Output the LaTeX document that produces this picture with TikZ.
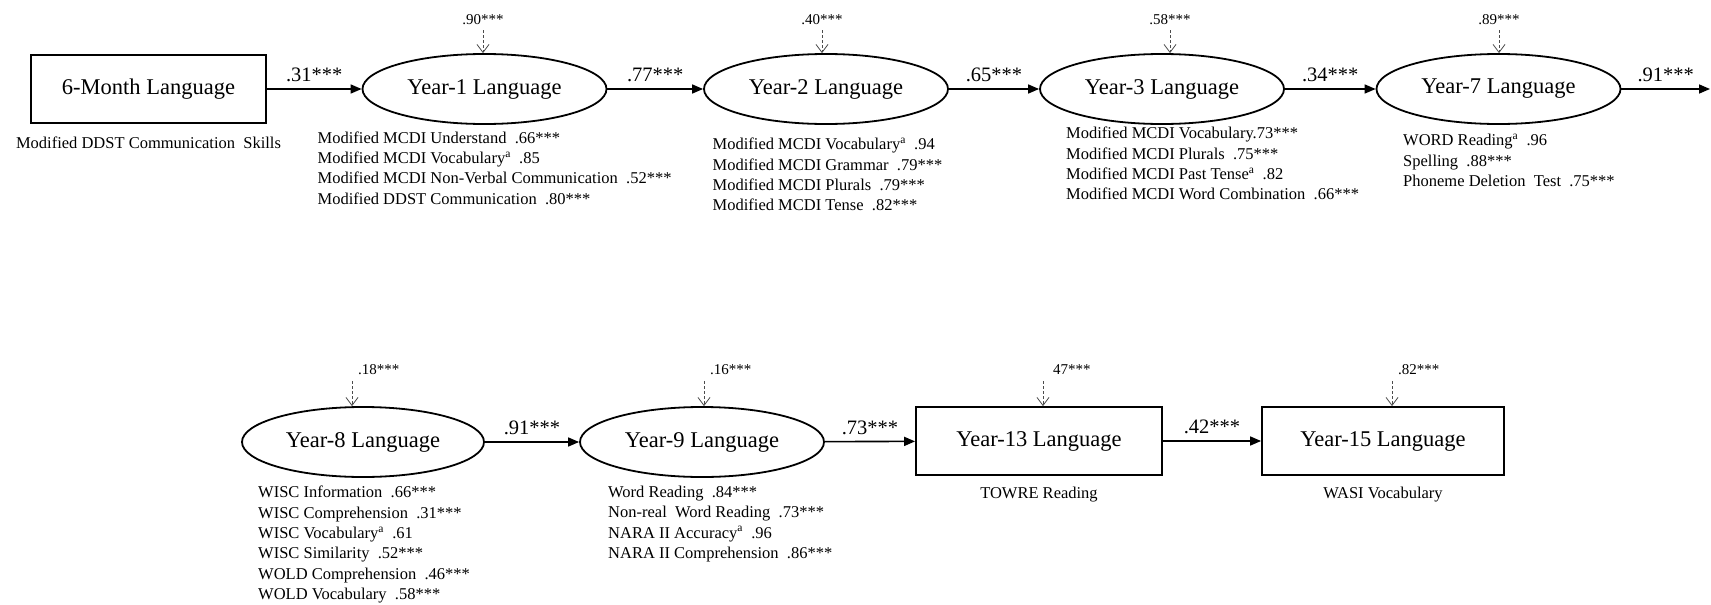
\documentclass[tikz,border=0pt]{standalone}
\usepackage{fontspec}
\setmainfont{Liberation Serif}
\usetikzlibrary{arrows.meta,positioning,shapes.geometric}

\begin{document}
\begin{tikzpicture}[
  x=1pt,y=-1pt,
  every node/.style={inner sep=0pt},
  lat/.style={draw,ellipse,line width=1.8pt,minimum width=244pt,minimum height=70pt,font=\fontsize{22.5}{27}\selectfont},
  obs/.style={draw,rectangle,line width=1.8pt,minimum width=242pt,minimum height=68pt,font=\fontsize{22.5}{27}\selectfont},
  ind/.style={align=left,anchor=north west,font=\fontsize{16.5}{20.3}\selectfont},
  note/.style={font=\fontsize{16.5}{20.3}\selectfont},
  coef/.style={midway,above=6pt,font=\fontsize{20.5}{24}\selectfont},
  resid/.style={font=\fontsize{15}{18}\selectfont},
  link/.style={-{Triangle[length=11pt,width=9pt]},line width=1.6pt},
  err/.style={-{Straight Barb[length=8pt,width=12pt]},line width=0.8pt,dash pattern=on 3pt off 2pt,color=black!70}
]
\useasboundingbox (0,0) rectangle (1711,605);

% top row
\node[obs,minimum width=235pt] (six) at (148.5,89) {6-Month Language};
\node[lat] (y1) at (484.5,89) {Year-1 Language};
\node[lat] (y2) at (826,89) {Year-2 Language};
\node[lat] (y3) at (1162,89) {Year-3 Language};
\node[lat] (y7) at (1498.5,89) {Year-7 Language};
\coordinate (more) at (1710,89);

\draw[link] (six) -- node[coef] (p1) {.31***} (y1);
\draw[link] (y1) -- node[coef] (p2) {.77***} (y2);
\draw[link] (y2) -- node[coef] (p3) {.65***} (y3);
\draw[link] (y3) -- node[coef] (p4) {.34***} (y7);
\draw[link] (y7) -- node[coef] (p5) {.91***} (more);

% residuals, top
\coordinate (e1) at (483,30);
\coordinate (e2) at (822,30);
\coordinate (e3) at (1170,30);
\coordinate (e7) at (1499,30);
\draw[err] (e1) -- (e1 |- y1.north);
\draw[err] (e2) -- (e2 |- y2.north);
\draw[err] (e3) -- (e3 |- y3.north);
\draw[err] (e7) -- (e7 |- y7.north);
\node[resid,above=5pt] (r1) at (e1) {.90***};
\node[resid,above=5pt] (r2) at (e2) {.40***};
\node[resid,above=5pt] (r3) at (e3) {.58***};
\node[resid,above=5pt] (r7) at (e7) {.89***};

% indicators, top
\node[note,below=13pt of six] (m0) {Modified DDST Communication~~Skills};
\node[ind] (m1) at (317.5,131.5) {Modified MCDI Understand~~.66***\\Modified MCDI Vocabulary\textsuperscript{a}~~.85\\Modified MCDI Non-Verbal Communication~~.52***\\Modified DDST Communication~~.80***};
\node[ind] (m2) at (712.5,138) {Modified MCDI Vocabulary\textsuperscript{a}~~.94\\Modified MCDI Grammar~~.79***\\Modified MCDI Plurals~~.79***\\Modified MCDI Tense~~.82***};
\node[ind] (m3) at (1066,127) {Modified MCDI Vocabulary.73***\\Modified MCDI Plurals~~.75***\\Modified MCDI Past Tense\textsuperscript{a}~~.82\\Modified MCDI Word Combination~~.66***};
\node[ind] (m7) at (1403,134) {WORD Reading\textsuperscript{a}~~.96\\Spelling~~.88***\\Phoneme Deletion~~Test~~.75***};

% bottom row
\node[lat,minimum width=242pt] (y8) at (363,442) {Year-8 Language};
\node[lat] (y9) at (702,442) {Year-9 Language};
\node[obs,minimum width=246pt] (y13) at (1039,441) {Year-13 Language};
\node[obs] (y15) at (1383,441) {Year-15 Language};

\draw[link] (y8) -- node[coef] (p6) {.91***} (y9);
\draw[link] (y9) -- node[coef] (p7) {.73***} (y13);
\draw[link] (y13) -- node[coef] (p8) {.42***} (y15);

% residuals, bottom
\coordinate (e8) at (352,381);
\coordinate (e9) at (704,381);
\coordinate (e13) at (1043,381);
\coordinate (e15) at (1392,381);
\draw[err] (e8) -- (e8 |- y8.north);
\draw[err] (e9) -- (e9 |- y9.north);
\draw[err] (e13) -- (e13 |- y13.north);
\draw[err] (e15) -- (e15 |- y15.north);
\node[resid,anchor=south west,xshift=6pt,yshift=6pt] (r8) at (e8) {.18***};
\node[resid,anchor=south west,xshift=6pt,yshift=6pt] (r9) at (e9) {.16***};
\node[resid,anchor=south west,xshift=10pt,yshift=6pt] (r13) at (e13) {47***};
\node[resid,anchor=south west,xshift=6pt,yshift=6pt] (r15) at (e15) {.82***};

% indicators, bottom
\node[ind] (m8) at (258,486) {WISC Information~~.66***\\WISC Comprehension~~.31***\\WISC Vocabulary\textsuperscript{a}~~.61\\WISC Similarity~~.52***\\WOLD Comprehension~~.46***\\WOLD Vocabulary~~.58***};
\node[ind] (m9) at (608,486) {Word Reading~~.84***\\Non-real~~Word Reading~~.73***\\NARA II Accuracy\textsuperscript{a}~~.96\\NARA II Comprehension~~.86***};
\node[note,below=11pt of y13] (m13) {TOWRE Reading};
\node[note,below=11pt of y15] (m15) {WASI Vocabulary};
\end{tikzpicture}
\end{document}
